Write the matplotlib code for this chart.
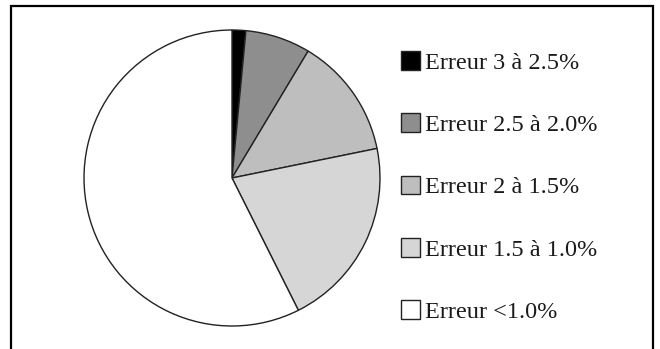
import matplotlib.pyplot as plt
from matplotlib.patches import Rectangle

# values (percent share of each error class)
labels = ["Erreur 3 à 2.5%", "Erreur 2.5 à 2.0%", "Erreur 2 à 1.5%",
          "Erreur 1.5 à 1.0%", "Erreur <1.0%"]
shares = [1.5, 7.1, 13.2, 20.8, 57.4]
colors = ["#000000", "#8e8e8e", "#bebebe", "#d6d6d6", "#ffffff"]

W, H = 660, 349
fig = plt.figure(figsize=(W / 100, H / 100), dpi=100)
fig.patch.set_facecolor("white")

# pie centred at about (232, 178) px, radius about 148 px
cx, cy, r = 232, 178, 148
ax = fig.add_axes([(cx - r) / W, (H - cy - r) / H, 2 * r / W, 2 * r / H])
wedges, _ = ax.pie(shares, colors=colors, startangle=90, counterclock=False,
                   wedgeprops=dict(edgecolor="#222222", linewidth=1.0))
ax.set_xlim(-1, 1)
ax.set_ylim(-1, 1)
ax.set_aspect("equal")
ax.axis("off")

leg = fig.legend(wedges, labels, loc="upper left",
                 bbox_to_anchor=(401 / W, 1 - 51 / H),
                 frameon=False, borderpad=0, borderaxespad=0,
                 handlelength=0.78, handleheight=0.8, handletextpad=0.22,
                 labelspacing=1.63,
                 prop=dict(family="Liberation Serif", size=17.5))
for t in leg.get_texts():
    t.set_color("#1a1a1a")

# outer frame (bottom edge falls outside the image)
fig.patches.append(Rectangle((11 / W, -0.05), (653 - 11) / W, 1.05 - 6 / H,
                             transform=fig.transFigure, fill=False,
                             edgecolor="black", linewidth=1.6))

fig.savefig("out.png", dpi=100)
